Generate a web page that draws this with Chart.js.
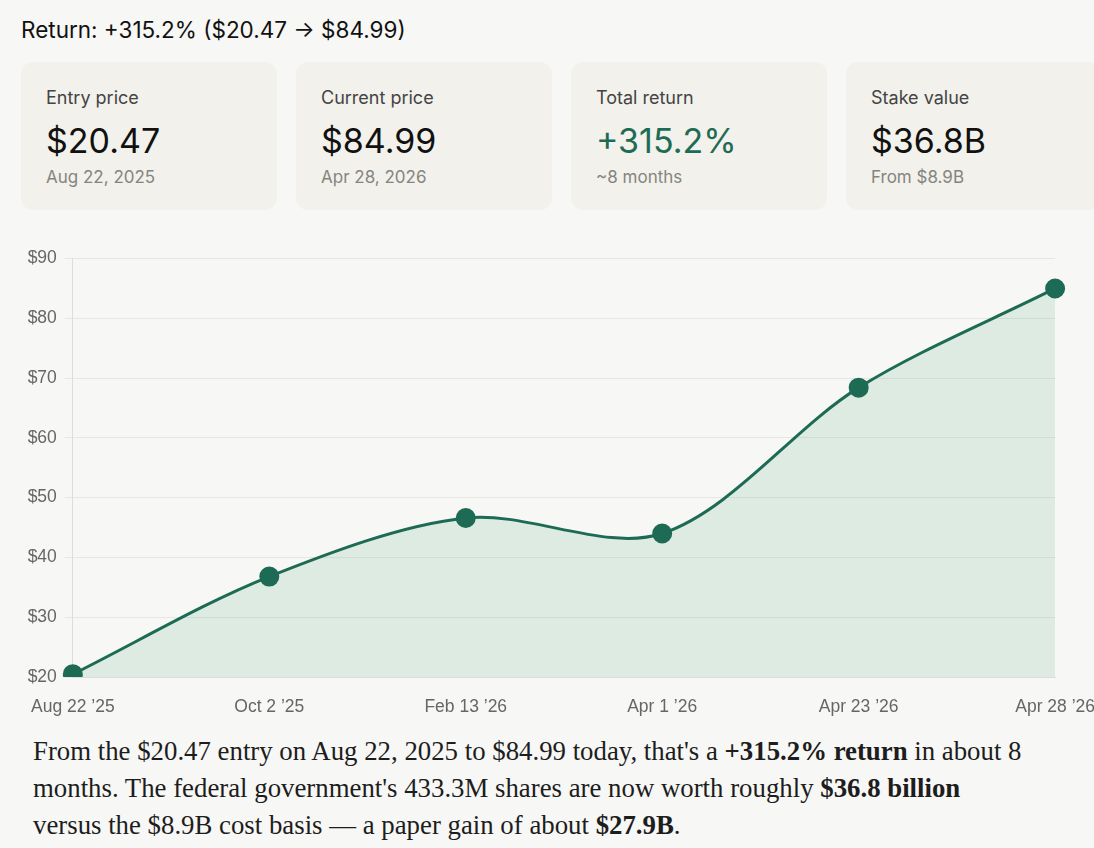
<!DOCTYPE html>
<html>
<head>
<meta charset="utf-8">
<script src="https://cdn.jsdelivr.net/npm/chart.js@4/dist/chart.umd.min.js"></script>
<style>
  html, body { margin: 0; padding: 0; background: #f7f7f5; overflow: hidden; }
  body { width: 1094px; height: 848px; position: relative; font-family: Inter, "Noto Sans", sans-serif; color: #111; }
  .title { position: absolute; left: 21px; top: 16px; font-size: 22.5px; white-space: nowrap; }
  .cards { position: absolute; left: 21px; top: 62px; display: flex; gap: 19px; }
  .card { width: 256px; height: 148px; box-sizing: border-box; background: #f2f1eb; border-radius: 12px; padding: 25px 25px; flex: none; }
  .label { font-size: 18px; color: #444; line-height: 22px; }
  .value { font-size: 34px; line-height: 42px; margin-top: 11px; color: #111; }
  .value.up { color: #1e6b55; }
  .sub { font-size: 17px; color: #858580; margin-top: 5px; line-height: 20px; }
  .chartbox { position: absolute; left: 19px; top: 240px; width: 1088px; height: 490px; }
  .note { position: absolute; left: 33px; top: 733px; width: 995px; font-family: "Liberation Serif", "DejaVu Serif", serif; font-size: 26.8px; line-height: 37px; color: #1d1d1d; }
</style>
</head>
<body>
<div class="title">Return: +315.2% ($20.47 → $84.99)</div>
<div class="cards">
  <div class="card"><div class="label">Entry price</div><div class="value">$20.47</div><div class="sub">Aug 22, 2025</div></div>
  <div class="card"><div class="label">Current price</div><div class="value">$84.99</div><div class="sub">Apr 28, 2026</div></div>
  <div class="card"><div class="label">Total return</div><div class="value up">+315.2%</div><div class="sub">~8 months</div></div>
  <div class="card"><div class="label">Stake value</div><div class="value">$36.8B</div><div class="sub">From $8.9B</div></div>
</div>
<div class="chartbox"><canvas id="chart"></canvas></div>
<div class="note">From the $20.47 entry on Aug 22, 2025 to $84.99 today, that's a <b>+315.2% return</b> in about 8 months. The federal government's 433.3M shares are now worth roughly <b>$36.8 billion</b> versus the $8.9B cost basis — a paper gain of about <b>$27.9B</b>.</div>
<script>
const dates = ["Aug 22 ’25", "Oct 2 ’25", "Feb 13 ’26", "Apr 1 ’26", "Apr 23 ’26", "Apr 28 ’26"];
const prices = [20.47, 36.8, 46.6, 44.0, 68.4, 84.99];
const yMin = 20, yMax = 90, yStep = 10;

const green = '#1e6b55';
const tickFont = { size: 17.5, family: 'Liberation Sans, Arial, sans-serif' };

new Chart(document.getElementById('chart'), {
  type: 'line',
  data: {
    labels: dates,
    datasets: [{
      data: prices,
      borderColor: green,
      backgroundColor: 'rgba(40,150,100,0.12)',
      borderWidth: 3,
      fill: true,
      tension: 0.32,
      pointRadius: 8.5,
      pointHoverRadius: 8.5,
      pointBackgroundColor: green,
      pointBorderColor: green
    }]
  },
  options: {
    responsive: true,
    maintainAspectRatio: false,
    animation: false,
    plugins: { legend: { display: false }, tooltip: { enabled: false } },
    layout: { padding: { top: 4 } },
    scales: {
      x: {
        grid: { display: false },
        border: { color: '#dddddd' },
        ticks: { color: '#666', font: tickFont, maxRotation: 0, padding: 12 }
      },
      y: {
        min: yMin, max: yMax,
        grid: { color: '#e6e6e3' },
        border: { color: '#dddddd' },
        ticks: { stepSize: yStep, color: '#666', font: tickFont, padding: 8, callback: v => '$' + v }
      }
    }
  }
});
</script>
</body>
</html>
